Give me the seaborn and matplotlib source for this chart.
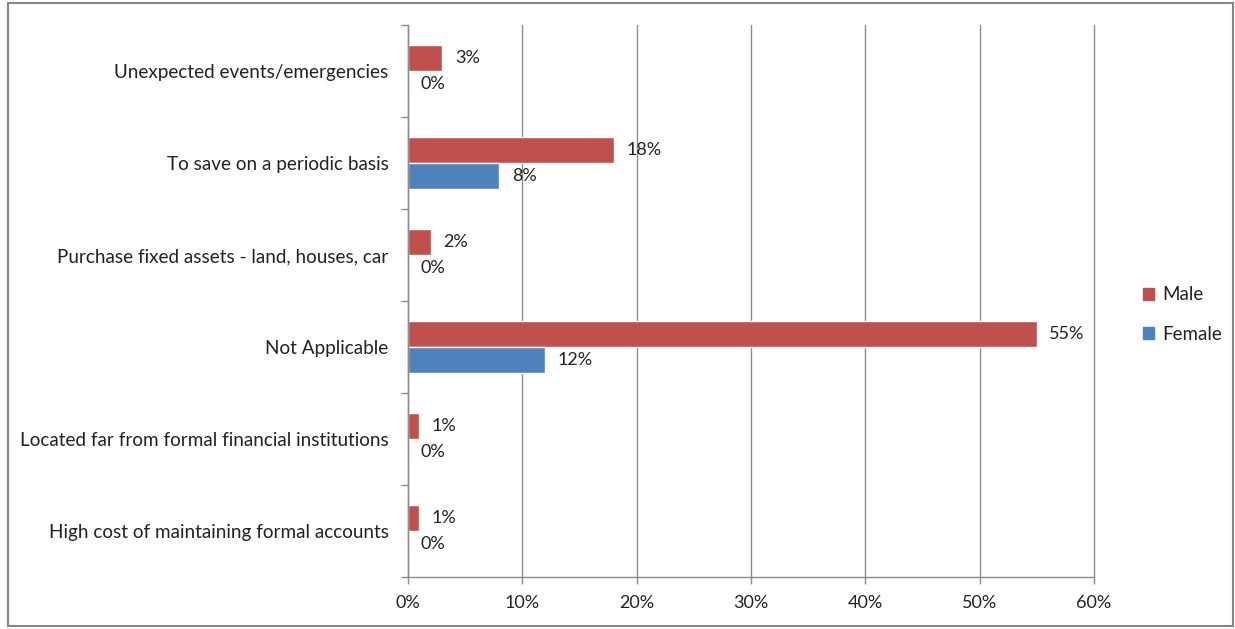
import matplotlib
matplotlib.use("Agg")
import matplotlib.pyplot as plt
import matplotlib.patches as mpatches
from matplotlib.ticker import FixedLocator, PercentFormatter
import seaborn as sns
import pandas as pd

# Reasons for not saving, by gender (percent of respondents)
reasons = [
    "Unexpected events/emergencies",
    "To save on a periodic basis",
    "Purchase fixed assets - land, houses, car",
    "Not Applicable",
    "Located far from formal financial institutions",
    "High cost of maintaining formal accounts",
]
male = [3, 18, 2, 55, 1, 1]
female = [0, 8, 0, 12, 0, 0]
genders = ["Male", "Female"]
colors = {"Male": "#C0504D", "Female": "#4F81BD"}

df = pd.DataFrame({
    "reason": reasons * 2,
    "gender": ["Male"] * len(reasons) + ["Female"] * len(reasons),
    "value": male + female,
})

sns.set_theme(style="white")
plt.rcParams["font.family"] = ["Lato", "DejaVu Sans"]

fig = plt.figure(figsize=(12.35, 6.29), dpi=100)
ax = fig.add_axes([0.3304, 0.0827, 0.5554, 0.8776])

sns.barplot(data=df, y="reason", x="value", hue="gender", order=reasons,
            hue_order=genders, palette=colors, orient="h", width=0.565,
            saturation=1, ax=ax, legend=False)

for cont, g in zip(ax.containers, genders):
    vals = male if g == "Male" else female
    ax.bar_label(cont, labels=[f"{v}%" for v in vals], padding=9,
                 fontsize=13, color="#222222")

grid_c = "#8C8C8C"
ax.set_xlim(0, 60)
ax.set_ylim(len(reasons) - 0.5, -0.5)
ax.xaxis.set_major_locator(FixedLocator(range(0, 61, 10)))
ax.xaxis.set_major_formatter(PercentFormatter(decimals=0))
ax.grid(axis="x", color=grid_c, linewidth=1)
for gl in ax.get_xgridlines():
    gl.set_clip_on(False)
ax.set_axisbelow(True)
ax.set_xlabel("")
ax.set_ylabel("")

for s in ["top", "right"]:
    ax.spines[s].set_visible(False)
for s in ["left", "bottom"]:
    ax.spines[s].set_color(grid_c)
    ax.spines[s].set_linewidth(1)

ax.tick_params(axis="x", which="major", length=5, color=grid_c, width=1,
               pad=8, labelsize=13, labelcolor="#222222", bottom=True)
ax.tick_params(axis="y", which="major", length=0, pad=14, labelsize=13.6,
               labelcolor="#222222")
ax.yaxis.set_minor_locator(FixedLocator([i - 0.5 for i in range(len(reasons) + 1)]))
ax.tick_params(axis="y", which="minor", length=5, color=grid_c, width=1, left=True)

handles = [mpatches.Patch(color=colors[g], label=g) for g in genders]
fig.legend(handles=handles, loc="center left", bbox_to_anchor=(0.912, 0.5),
           frameon=False, fontsize=13.5, handlelength=0.6, handleheight=0.6,
           handletextpad=0.4, labelspacing=1.2, labelcolor="#222222")

fig.add_artist(mpatches.Rectangle((0.0065, 0.004), 0.9915, 0.992,
                                  transform=fig.transFigure, fill=False,
                                  edgecolor="#868686", linewidth=1.5))

fig.savefig("out.png", dpi=100)
